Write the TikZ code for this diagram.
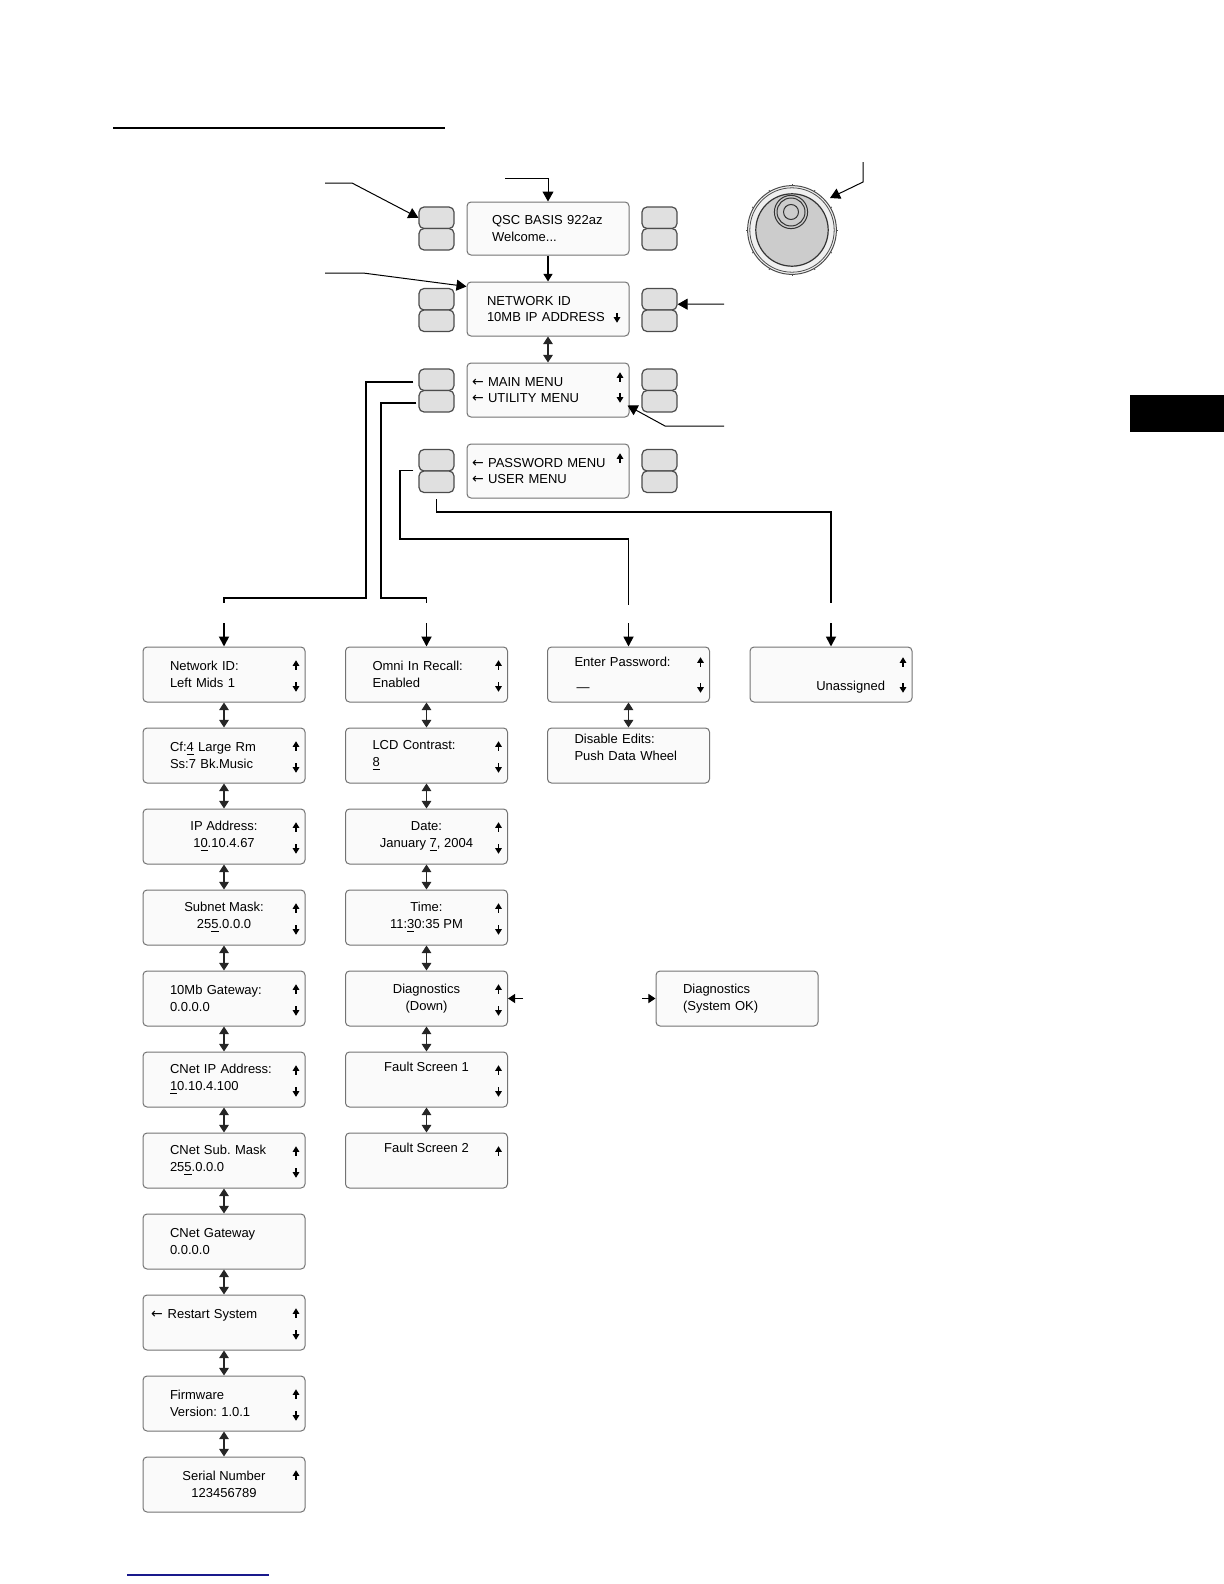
\documentclass[tikz,border=0pt]{standalone}
\usepackage{fontspec}
\setmainfont{Liberation Sans}
\newfontfamily\glyphfont{DejaVu Sans}
\usepackage{xcolor}
\usepackage{tikz}
\usetikzlibrary{arrows.meta}

\definecolor{navyline}{RGB}{25,25,140}
\newcommand{\menuarr}{{\glyphfont\fontsize{7}{7}\selectfont ←}}

\tikzset{
    lcd/.style={draw=black!55, fill=black!2, rounded corners=2pt, line width=0.5pt,
        minimum width=81pt, minimum height=27.5pt, inner ysep=0pt},
    lft/.style={lcd, align=left, text width=54pt, inner xsep=13.5pt},
    ctr/.style={lcd, align=center},
    rgt/.style={lcd, align=right, text width=54pt, inner xsep=13.5pt},
    btn/.style={draw=black!70, fill=black!12, rounded corners=2.5pt, line width=0.6pt,
        minimum width=17.5pt, minimum height=10.75pt, inner sep=0pt},
    scrarr/.style={draw=black, line width=0.7pt, -{Triangle[length=2.8pt,width=3.2pt]}},
    % scroll marks inside a screen: #1 = depth of the up mark, #2 = depth of the down mark
    arrs/.style 2 args={path picture={
        \draw[scrarr] ([xshift=-4.5pt,yshift=-#1-2.4pt]path picture bounding box.north east) -- ++(0pt,4.8pt);
        \draw[scrarr] ([xshift=-4.5pt,yshift=-#2+2.4pt]path picture bounding box.north east) -- ++(0pt,-4.8pt);}},
    arrud/.style={arrs={9pt}{20pt}},
    arru/.style={path picture={
        \draw[scrarr] ([xshift=-4.5pt,yshift=-#1-2.4pt]path picture bounding box.north east) -- ++(0pt,4.8pt);}},
    arru/.default=9pt,
    arrd/.style={path picture={
        \draw[scrarr] ([xshift=-6pt,yshift=-#1+2.4pt]path picture bounding box.north east) -- ++(0pt,-4.8pt);}},
    arrd/.default=20pt,
    updown/.style={black!85, line width=0.6pt,
        {Triangle[length=3.8pt,width=4.8pt]}-{Triangle[length=3.8pt,width=4.8pt]}},
    branch/.style={line width=0.9pt},
    drop/.style={line width=0.9pt, -{Triangle[length=5pt,width=5pt]}},
    callout/.style={line width=0.5pt, -{Triangle[length=5pt,width=5.5pt]}}
}

\begin{document}
\frenchspacing
\begin{tikzpicture}[
    x=0.5pt, y=-0.5pt,
    font=\fontsize{6.5}{8.3}\selectfont
]
    \useasboundingbox (0,0) rectangle (1224,1584);

    % page furniture
    \draw[line width=0.8pt] (113,128) -- (445,128);
    \draw[navyline, line width=0.7pt] (127,1575) -- (269,1575);
    \fill (1130,395) rectangle (1224,432);

    % front panel screens
    \node[lcd, align=left, text width=56pt, inner xsep=12.5pt, minimum height=26.5pt] (welcome) at (548,228.5) {QSC BASIS 922az\\Welcome...};
    \node[lcd, align=left, text width=61pt, inner xsep=10pt, minimum height=27pt, arrd=18pt] (network) at (548,309) {NETWORK ID\\10MB IP ADDRESS};
    \node[lcd, align=left, text width=76pt, inner xsep=2.5pt, minimum height=27pt, arrs={7pt}{17.5pt}] (mainmenu) at (548,390) {\menuarr{} MAIN MENU\\\menuarr{} UTILITY MENU};
    \node[lcd, align=left, text width=76pt, inner xsep=2.5pt, minimum height=27pt, arru=7pt] (pwmenu) at (548,471) {\menuarr{} PASSWORD MENU\\\menuarr{} USER MENU};

    % soft keys
    \foreach \row/\y in {1/228.5, 2/310, 3/390.5, 4/471} {
        \node[btn] (lbt\row) at (436.5,\y-10.75) {};
        \node[btn] (lbb\row) at (436.5,\y+10.75) {};
        \node[btn] (rbt\row) at (659.5,\y-10.75) {};
        \node[btn] (rbb\row) at (659.5,\y+10.75) {};
    }

    % data wheel
    \coordinate (knob) at (792,230);
    \draw[black!70, fill=black!6, line width=0.5pt] (knob) circle[radius=22.2pt];
    \draw[black!70, line width=0.4pt] (knob) circle[radius=21.1pt];
    \foreach \a in {0,30,...,330}
        \draw[black!70, line width=0.4pt] ([shift={(\a:22.2pt)}]knob) -- ([shift={(\a:23pt)}]knob);
    \draw[black!80, fill=black!20, line width=0.6pt] (knob) circle[radius=18.1pt];
    \draw[black!80, line width=0.5pt] (791,212) circle[radius=8.3pt];
    \draw[black!80, line width=0.5pt] (791,212) circle[radius=7pt];
    \draw[black!80, line width=0.5pt] (791,212) circle[radius=3.75pt];

    % callouts
    \coordinate (lblbtn) at (325,183);
    \coordinate (lblscr) at (325,273);
    \coordinate (lblwel) at (505,178);
    \coordinate (lblsel) at (724,304);
    \coordinate (lblscroll) at (724,426);
    \coordinate (lblknob) at (863,162);
    \coordinate (knobtip) at (830,198);
    \draw[callout] (lblbtn) -- (352,183) -- (lbt1.west);
    \draw[callout] (lblscr) -- (363,273) -- ([yshift=-2.5pt]network.north west);
    \draw[callout] (lblwel) -| (welcome);
    \draw[callout] (lblsel) -- ([yshift=-2.5pt]rbt2.east);
    \draw[callout] (lblscroll) -- (665,426) -- ([shift={(-1pt,6pt)}]mainmenu.south east);
    \draw[callout] (lblknob) -- (863,182) -- (knobtip);

    \draw[line width=0.6pt, -{Triangle[length=3.8pt,width=4.5pt]}] (welcome) -- (network);
    \draw[updown] (network) -- (mainmenu);

    % menu branches
    \coordinate (mainend) at (224,603);
    \coordinate (utilend) at (426.5,603);
    \coordinate (pwend) at (628.5,605);
    \coordinate (userend) at (831,603);
    \coordinate (mainin) at (224,623);
    \coordinate (utilin) at (426.5,623);
    \coordinate (pwin) at (628.5,623);
    \coordinate (userin) at (831,623);
    \draw[branch] ([xshift=-2.5pt,yshift=-1pt]lbt3.west) -| (366,598) -| (mainend);
    \draw[branch] ([xshift=-1pt,yshift=-1pt]lbb3.west) -| (381,598) -| (utilend);
    \draw[branch] ([xshift=-2.5pt]lbb4.north west) -| (400,539) -| (pwend);
    \draw[branch] ([yshift=-3pt]lbb4.south) -- ++(0,13) -| (userend);

    % main menu column
    \node[lft, arrud] (netid) at (224,674.5) {Network ID:\\Left Mids 1};
    \node[lft, arrud] (cfss) at (224,755.5) {Cf:\underline{4} Large Rm\\Ss:7 Bk.Music};
    \node[ctr, arrud] (ipaddr) at (224,836.5) {IP Address:\\1\underline{0}.10.4.67};
    \node[ctr, arrud] (subnet) at (224,917.5) {Subnet Mask:\\25\underline{5}.0.0.0};
    \node[lft, arrud] (gway) at (224,998.5) {10Mb Gateway:\\0.0.0.0};
    \node[lft, arrud] (cnetip) at (224,1079.5) {CNet IP Address:\\\underline{1}0.10.4.100};
    \node[lft, arrud] (cnetmask) at (224,1160.5) {CNet Sub. Mask\\25\underline{5}.0.0.0};
    \node[lft] (cnetgw) at (224,1241.5) {CNet Gateway\\0.0.0.0};
    \node[lcd, align=left, text width=73pt, inner xsep=4pt, arrud] (restart) at (224,1322.5) {\menuarr\hspace{2.5pt}Restart System\\\mbox{}};
    \node[lft, arrud] (firmware) at (224,1403.5) {Firmware\\Version: 1.0.1};
    \node[ctr, arru] (serial) at (224,1484.5) {Serial Number\\123456789};

    % utility menu column
    \node[lft, arrud] (omni) at (426.5,674.5) {Omni In Recall:\\Enabled};
    \node[lft, arrud] (lcd) at (426.5,755.5) {LCD Contrast:\\\underline{8}};
    \node[ctr, arrud] (date) at (426.5,836.5) {Date:\\January \underline{7}, 2004};
    \node[ctr, arrud] (time) at (426.5,917.5) {Time:\\11:\underline{3}0:35 PM};
    \node[ctr, arrud] (diag) at (426.5,998.5) {Diagnostics\\(Down)};
    \node[ctr, arrud] (fault1) at (426.5,1079.5) {Fault Screen 1\\[4pt]\mbox{}};
    \node[ctr, arru] (fault2) at (426.5,1160.5) {Fault Screen 2\\[4pt]\mbox{}};
    \node[lft] (diagok) at (737,998.5) {Diagnostics\\(System OK)};

    % password and user menus
    \node[lft, arrs={7.5pt}{20.5pt}] (passwd) at (628.5,674.5) {Enter Password:\\[4pt]\,—};
    \node[lft] (disable) at (628.5,755.5) {Disable Edits:\\Push Data Wheel\\\mbox{}};
    \node[rgt, arrs={7.5pt}{20.5pt}] (unassigned) at (831,674.5) {\mbox{}\\[9.3pt]Unassigned};

    \draw[drop] (mainin) -- (netid);
    \draw[drop] (utilin) -- (omni);
    \draw[drop] (pwin) -- (passwd);
    \draw[drop] (userin) -- (unassigned);

    \draw[updown] (netid) -- (cfss);
    \draw[updown] (cfss) -- (ipaddr);
    \draw[updown] (ipaddr) -- (subnet);
    \draw[updown] (subnet) -- (gway);
    \draw[updown] (gway) -- (cnetip);
    \draw[updown] (cnetip) -- (cnetmask);
    \draw[updown] (cnetmask) -- (cnetgw);
    \draw[updown] (cnetgw) -- (restart);
    \draw[updown] (restart) -- (firmware);
    \draw[updown] (firmware) -- (serial);

    \draw[updown] (omni) -- (lcd);
    \draw[updown] (lcd) -- (date);
    \draw[updown] (date) -- (time);
    \draw[updown] (time) -- (diag);
    \draw[updown] (diag) -- (fault1);
    \draw[updown] (fault1) -- (fault2);

    \draw[updown] (passwd) -- (disable);

    % diagnostics toggle
    \coordinate (diagl) at (523,998.5);
    \coordinate (diagr) at (642,998.5);
    \draw[line width=0.6pt, -{Triangle[length=3.6pt,width=4.6pt]}] (diagl) -- (diag);
    \draw[line width=0.6pt, -{Triangle[length=3.6pt,width=4.6pt]}] (diagr) -- (diagok);
\end{tikzpicture}
\end{document}
